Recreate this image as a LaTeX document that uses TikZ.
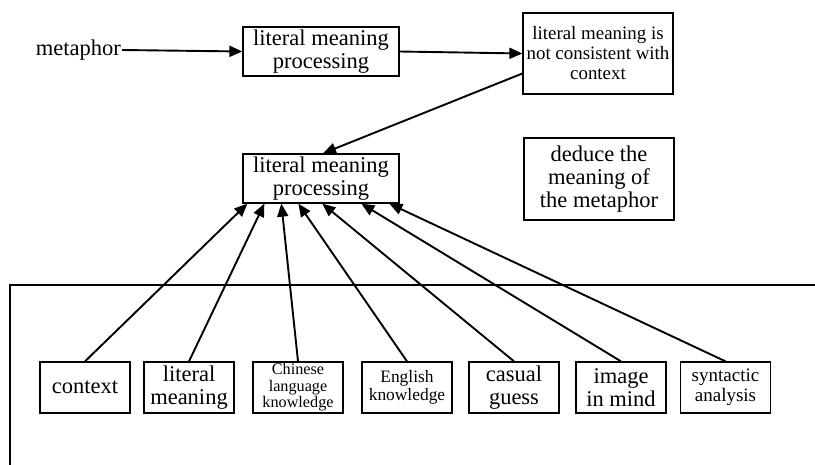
\documentclass[tikz,border=0pt]{standalone}
\usepackage{fontspec}
\setmainfont{Liberation Serif}
\usetikzlibrary{arrows.meta,calc}
\begin{document}
\begin{tikzpicture}[x=1pt,y=-1pt,
  box/.style={draw,line width=1.3pt,inner sep=0pt,align=center},
  big/.style={font=\fontsize{22.5}{23}\selectfont},
  conn/.style={line width=1.9pt},
  arr/.style={conn,-{Triangle[length=13pt,width=11pt]}}]
\useasboundingbox (0,0) rectangle (815,465);
% top row
\node[big,anchor=east,inner sep=1pt] (met) at (122,50) {metaphor};
\node[box,big,minimum width=156,minimum height=49] (b1) at (321,51.5) {literal meaning\\processing};
\node[box,font=\fontsize{18.9}{20}\selectfont,minimum width=150,minimum height=81] (b2) at (598,53.5) {literal meaning is\\not consistent with\\context};
\node[box,big,minimum width=156,minimum height=49] (b3) at (321,178.5) {literal meaning\\processing};
\node[box,big,minimum width=150,minimum height=82] (b4) at (599,179) {deduce the\\meaning of\\the metaphor};
% frame
\coordinate (fr) at (815,285);
\coordinate (fc) at (10,285);
\coordinate (fb) at (10,465);
\draw[line width=1.9pt] (fr) -- (fc) -- (fb);
% bottom boxes
\tikzset{bb/.style={box,minimum width=90,minimum height=51}}
\node[bb,big] (c1) at (85,387.5) {context};
\node[bb,big] (c2) at (189,387.5) {literal\\meaning};
\node[bb,font=\fontsize{16.2}{16.5}\selectfont] (c3) at (298,387.5) {Chinese\\language\\knowledge};
\node[bb,font=\fontsize{17.4}{18.3}\selectfont] (c4) at (407,387.5) {English\\knowledge};
\node[bb,big] (c5) at (514,387.5) {casual\\guess};
\node[bb,big] (c6) at (621,387.5) {image\\in mind};
\node[bb,font=\fontsize{19}{20}\selectfont] (c7) at (725.5,387.5) {syntactic\\analysis};
% connectors
\draw[arr] (met.east) -- (b1.west);
\draw[arr] (b1.east) -- (b2.west);
\draw[arr] ($(b2.west)+(0,20)$) -- ($(b3.north)+(2,0)$);
\draw[arr] (c1.north) -- ($(b3.south west)+(5,0)$);
\draw[arr] (c2.north) -- ($(b3.south west)+(22,0)$);
\draw[arr] (c3.north) -- ($(b3.south west)+(39,0)$);
\draw[arr] (c4.north) -- ($(b3.south west)+(56,0)$);
\draw[arr] (c5.north) -- ($(b3.south west)+(80,0)$);
\draw[arr] (c6.north) -- ($(b3.south west)+(119,0)$);
\draw[arr] (c7.north) -- ($(b3.south west)+(147,0)$);
\end{tikzpicture}
\end{document}
